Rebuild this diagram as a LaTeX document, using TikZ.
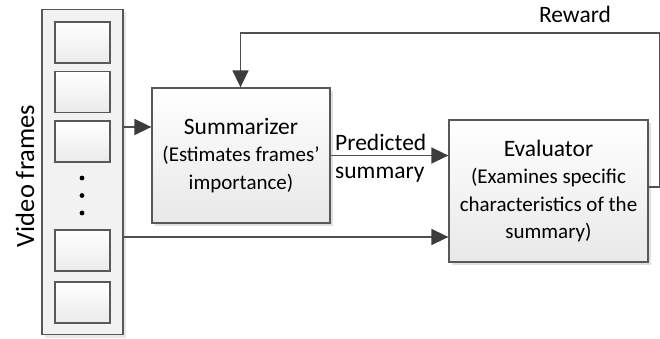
\documentclass[tikz,border=0pt]{standalone}
\usepackage{fontspec}
\setmainfont{Carlito}
\usetikzlibrary{arrows.meta,shadows}
\definecolor{linec}{HTML}{505050}
\definecolor{tipc}{HTML}{3C3C3C}
\definecolor{boxline}{HTML}{585858}
\begin{document}
\begin{tikzpicture}[x=1pt,y=-1pt,
  shbox/.style={draw=boxline, line width=1.3pt, top color=white, bottom color=black!9,
    drop shadow={shadow xshift=3pt, shadow yshift=-3pt, fill=black!35, opacity=0.35},
    inner sep=0pt, align=center, font=\fontsize{21}{27.5}\selectfont},
  framebox/.style={draw=boxline, line width=1.3pt, top color=white, bottom color=black!8, inner sep=0pt,
    minimum width=55pt, minimum height=41pt},
  arr/.style={draw=linec, line width=1.6pt, -{Triangle[length=17pt,width=16pt,fill=tipc,color=tipc]}},
  lbl/.style={font=\fontsize{23.5}{28}\selectfont, inner sep=0pt}]
\useasboundingbox (0,0) rectangle (660,339);
% frames column
\node[draw=boxline, line width=1.3pt, fill=black!5,
  drop shadow={shadow xshift=3pt, shadow yshift=-3pt, fill=black!30, opacity=0.3},
  minimum width=81pt, minimum height=325pt, inner sep=0pt] (col) at (82.5,172) {};
\node[framebox] (f1) at (82.5,42.5) {};
\node[framebox] (f2) at (82.5,92) {};
\node[framebox] (f3) at (82.5,141.5) {};
\node[framebox] (f4) at (82.5,250.5) {};
\node[framebox] (f5) at (82.5,302.5) {};
\fill[black] (82,178) circle (2.4pt) (82,195.5) circle (2.4pt) (82,213) circle (2.4pt);
\node[lbl, font=\fontsize{26.5}{30}\selectfont, rotate=90] (vf) at (25,176) {Video frames};
% summarizer
\node[shbox, minimum width=178pt, minimum height=135pt] (summ) at (241,155.5)
  {{\fontsize{23.5}{28}\selectfont Summarizer}\\(Estimates frames’\\importance)};
% evaluator
\node[shbox, minimum width=199pt, minimum height=142pt] (eval) at (548.5,191)
  {{\fontsize{23.5}{28}\selectfont Evaluator}\\(Examines specific\\characteristics of the\\summary)};
% labels
\node[lbl, align=left, anchor=west] (pl) at (335,158) {Predicted\\summary};
\node[lbl, anchor=base] (rw) at (575,23) {Reward};
% connectors
\coordinate (c1) at (123,127);
\coordinate (c2) at (123,237);
\coordinate (r0) at (648,187);
\coordinate (r1) at (659.5,187);
\coordinate (r2) at (659.5,33);
\coordinate (r3) at (240.5,33);
\draw[arr] (c1) -- (c1 -| summ.west);
\draw[arr] (c2) -- (c2 -| eval.west);
\draw[arr] (summ.east) -- (summ.east -| eval.west);
\draw[arr] (r0) -- (r1) -- (r2) -- (r3) -- (r3 |- summ.north);
\end{tikzpicture}
\end{document}
